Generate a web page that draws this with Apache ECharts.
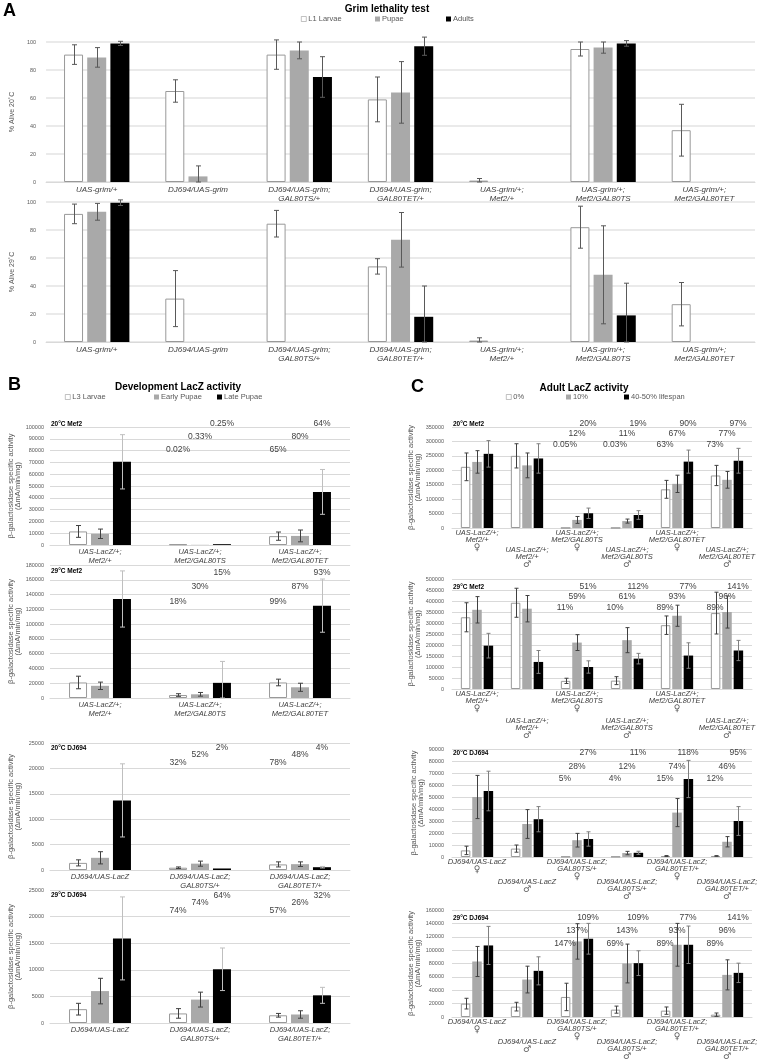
<!DOCTYPE html>
<html><head><meta charset="utf-8">
<script src="https://cdn.jsdelivr.net/npm/echarts@6/dist/echarts.min.js"></script>
<style>html,body{margin:0;padding:0;background:#fff}#c{width:767px;height:1062px}</style>
</head><body><div id="c"></div><script>
// ---------------- DATA ----------------
// Panel A : Grim lethality test
const A_SERIES = ['L1 Larvae', 'Pupae', 'Adults'];
const A_CATS = ['UAS-grim/+', 'DJ694/UAS-grim', 'DJ694/UAS-grim;\nGAL80TS/+', 'DJ694/UAS-grim;\nGAL80TET/+', 'UAS-grim/+;\nMef2/+', 'UAS-grim/+;\nMef2/GAL80TS', 'UAS-grim/+;\nMef2/GAL80TET'];
const A20_L1 = [91, 65, 91, 59, 1, 95, 37];
const A20_L1_ERR = [7, 8, 10.5, 16, 1.5, 5, 18.5];
const A20_PUPAE = [89, 4, 94, 64, 0, 96, 0];
const A20_PUPAE_ERR = [7, 7.5, 6, 22, 0, 4, 0];
const A20_ADULTS = [99, 0, 75, 97, 0, 99, 0];
const A20_ADULTS_ERR = [1.5, 0, 14.5, 6.5, 0, 2, 0];
const A29_L1 = [91.5, 31, 84.5, 54, 1, 82, 27];
const A29_L1_ERR = [7, 20, 9.5, 5.5, 2, 15, 15.5];
const A29_PUPAE = [93, 0, 0, 73, 0, 48, 0];
const A29_PUPAE_ERR = [6, 0, 0, 19.5, 0, 35, 0];
const A29_ADULTS = [99.5, 0, 0, 18, 0, 19, 0];
const A29_ADULTS_ERR = [2, 0, 0, 22, 0, 23, 0];

// Panel B : Development LacZ activity
const B_SERIES = ['L3 Larvae', 'Early Pupae', 'Late Pupae'];
const B_MEF2_CATS = ['UAS-LacZ/+;\nMef2/+', 'UAS-LacZ/+;\nMef2/GAL80TS', 'UAS-LacZ/+;\nMef2/GAL80TET'];
const B_DJ_CATS = ['DJ694/UAS-LacZ', 'DJ694/UAS-LacZ;\nGAL80TS/+', 'DJ694/UAS-LacZ;\nGAL80TET/+'];
const B20M_L3 = [11500, 600, 7500];
const B20M_L3_ERR = [5000, 0, 3500];
const B20M_EARLY = [9500, 150, 7700];
const B20M_EARLY_ERR = [4000, 0, 5000];
const B20M_LATE = [70500, 700, 45000];
const B20M_LATE_ERR = [23000, 0, 19000];
const B20M_PCT = [['', '0.25%', '64%'], ['', '0.33%', '80%'], ['', '0.02%', '65%']];
const B29M_L3 = [21000, 4000, 21000];
const B29M_L3_ERR = [8500, 1800, 4500];
const B29M_EARLY = [16500, 5000, 14500];
const B29M_EARLY_ERR = [5000, 2500, 5500];
const B29M_LATE = [134000, 20500, 125000];
const B29M_LATE_ERR = [38000, 29000, 36000];
const B29M_PCT = [['', '15%', '93%'], ['', '30%', '87%'], ['', '18%', '99%']];
const B20D_L3 = [1400, 450, 1100];
const B20D_L3_ERR = [600, 150, 500];
const B20D_EARLY = [2400, 1250, 1150];
const B20D_EARLY_ERR = [1200, 500, 450];
const B20D_LATE = [13700, 300, 550];
const B20D_LATE_ERR = [7200, 0, 150];
const B20D_PCT = [['', '2%', '4%'], ['', '52%', '48%'], ['', '32%', '78%']];
const B29D_L3 = [2600, 1800, 1450];
const B29D_L3_ERR = [1100, 900, 350];
const B29D_EARLY = [6000, 4400, 1600];
const B29D_EARLY_ERR = [2400, 1400, 700];
const B29D_LATE = [15900, 10100, 5200];
const B29D_LATE_ERR = [7800, 4000, 1500];
const B29D_PCT = [['', '64%', '32%'], ['', '74%', '26%'], ['', '74%', '57%']];

// Panel C : Adult LacZ activity
const C_SERIES = ['0%', '10%', '40-50% lifespan'];
const C_MEF2_CATS = ['UAS-LacZ/+;\nMef2/+\n♀', 'UAS-LacZ/+;\nMef2/+\n♂', 'UAS-LacZ/+;\nMef2/GAL80TS\n♀', 'UAS-LacZ/+;\nMef2/GAL80TS\n♂', 'UAS-LacZ/+;\nMef2/GAL80TET\n♀', 'UAS-LacZ/+;\nMef2/GAL80TET\n♂'];
const C_DJ_CATS = ['DJ694/UAS-LacZ\n♀', 'DJ694/UAS-LacZ\n♂', 'DJ694/UAS-LacZ;\nGAL80TS/+\n♀', 'DJ694/UAS-LacZ;\nGAL80TS/+\n♂', 'DJ694/UAS-LacZ;\nGAL80TET/+\n♀', 'DJ694/UAS-LacZ;\nGAL80TET/+\n♂'];
const C20M_D0 = [212000, 250000, 300, 250, 134000, 182000];
const C20M_D0_ERR = [48000, 42000, 0, 0, 31000, 35000];
const C20M_D10 = [229000, 217000, 28000, 24000, 153000, 167000];
const C20M_D10_ERR = [39000, 43000, 12000, 7000, 30000, 29000];
const C20M_D40 = [257000, 241000, 51000, 45000, 230000, 233000];
const C20M_D40_ERR = [46000, 51000, 18000, 15000, 40000, 43000];
const C20M_PCT = [['', '', '20%', '19%', '90%', '97%'], ['', '', '12%', '11%', '67%', '77%'], ['', '', '0.05%', '0.03%', '63%', '73%']];
const C29M_D0 = [326000, 392000, 37000, 38000, 290000, 345000];
const C29M_D0_ERR = [66000, 66000, 12000, 18000, 42000, 95000];
const C29M_D10 = [360000, 365000, 211000, 222000, 333000, 350000];
const C29M_D10_ERR = [60000, 60000, 36000, 57000, 48000, 73000];
const C29M_D40 = [197000, 123000, 100000, 138000, 152000, 175000];
const C29M_D40_ERR = [56000, 52000, 28000, 24000, 58000, 46000];
const C29M_PCT = [['', '', '51%', '112%', '77%', '141%'], ['', '', '59%', '61%', '93%', '96%'], ['', '', '11%', '10%', '89%', '89%']];
const C20D_D0 = [5500, 7000, 300, 280, 800, 850];
const C20D_D0_ERR = [3500, 3000, 0, 0, 400, 300];
const C20D_D10 = [50000, 27500, 14000, 3300, 37000, 12700];
const C20D_D10_ERR = [18000, 12000, 5700, 1400, 11700, 4300];
const C20D_D40 = [55000, 31500, 15000, 3500, 65000, 30000];
const C20D_D40_ERR = [16500, 10500, 6000, 1300, 15500, 12000];
const C20D_PCT = [['', '', '27%', '11%', '118%', '95%'], ['', '', '28%', '12%', '74%', '46%'], ['', '', '5%', '4%', '15%', '12%']];
const C29D_D0 = [20000, 15500, 30000, 11000, 9500, 3500];
const C29D_D0_ERR = [8000, 6500, 20500, 5300, 5500, 2500];
const C29D_D10 = [83000, 56000, 113000, 80000, 108000, 63000];
const C29D_D10_ERR = [22500, 20000, 26500, 29000, 32000, 22500];
const C29D_D40 = [107000, 69000, 117000, 80500, 108000, 66000];
const C29D_D40_ERR = [28500, 21000, 23000, 18500, 28000, 14500];
const C29D_PCT = [['', '', '109%', '109%', '77%', '141%'], ['', '', '137%', '143%', '93%', '96%'], ['', '', '147%', '69%', '89%', '89%']];

// ---------------- BUILD ----------------
const FONT = '"Liberation Sans", "DejaVu Sans", Arial, sans-serif';
const grids = [], xAxes = [], yAxes = [], series = [], graphics = [];
const BAR_STYLES = [
  {color: '#ffffff', borderColor: '#999999', borderWidth: 1},
  {color: '#a9a9a9'},
  {color: '#000000'}
];
function sexFormatter(v) { return String(v).replace(/([♀♂])/g, '{s|$1}'); }

function addChart(c) {
  const gi = grids.length;
  grids.push({left: c.left, top: c.top, width: c.width, height: c.height});
  const xi = xAxes.length;
  const lab = {fontSize: c.xFont, fontStyle: 'italic', color: '#404040', lineHeight: c.xLH, fontFamily: FONT, margin: c.xMargin,
    formatter: sexFormatter,
    rich: {s: {fontSize: 9, fontStyle: 'normal', color: '#595959', lineHeight: c.xLH + 1, fontFamily: '"DejaVu Sans", sans-serif'}}};
  xAxes.push({type: 'category', gridIndex: gi, position: 'bottom', data: c.cats,
    axisLine: {lineStyle: {color: '#d9d9d9'}}, axisTick: {show: false},
    axisLabel: Object.assign({}, lab, {interval: c.stagger ? function (i) { return i % 2 === 0; } : 0})});
  if (c.stagger) {
    xAxes.push({type: 'category', gridIndex: gi, position: 'bottom', data: c.cats,
      axisLine: {show: false}, axisTick: {show: false}, splitLine: {show: false},
      axisLabel: Object.assign({}, lab, {margin: c.stagger, interval: function (i) { return i % 2 === 1; }})});
  }
  const yi = yAxes.length;
  yAxes.push({type: 'value', gridIndex: gi, min: 0, max: c.max, interval: c.step,
    name: c.yName, nameLocation: 'middle', nameGap: c.nameGap,
    nameTextStyle: {fontSize: c.nameFont, color: '#595959', fontFamily: FONT, lineHeight: c.nameLH},
    axisLabel: {fontSize: 5.5, color: '#595959', margin: c.yMargin, fontFamily: FONT, formatter: function (v) { return String(v); }},
    axisLine: {show: false}, axisTick: {show: false},
    splitLine: {lineStyle: {color: c.gridColor || '#d9d9d9', width: c.gridW || 1}}});
  const gapPx = c.bw * c.gap;
  for (let s = 0; s < 3; s++) {
    series.push({type: 'bar', name: c.names[s], xAxisIndex: xi, yAxisIndex: yi, data: c.vals[s],
      barWidth: c.bw, barGap: (c.gap * 100) + '%', itemStyle: BAR_STYLES[s], emphasis: {disabled: true}});
  }
  const errData = [];
  for (let s = 0; s < 3; s++) c.vals[s].forEach(function (v, i) { if (c.errs[s][i] > 0) errData.push([i, v, c.errs[s][i], s]); });
  series.push({type: 'custom', xAxisIndex: xi, yAxisIndex: yi, data: errData, encode: {x: 0, y: 1}, silent: true, z: 3,
    renderItem: function (params, api) {
      const i = api.value(0), v = api.value(1), e = api.value(2), s = api.value(3);
      const x = Math.round(api.coord([i, 0])[0] + (s - 1) * (c.bw + gapPx)) + 0.5;
      const yHi = api.coord([i, v + e])[1];
      const yLo = api.coord([i, Math.max(0, v - e)])[1];
      const col = c.errColors[s], cap = c.cap;
      return {type: 'group', children: [
        {type: 'line', shape: {x1: x, y1: yHi, x2: x, y2: yLo}, style: {stroke: col, lineWidth: 1}},
        {type: 'line', shape: {x1: x - cap, y1: yHi, x2: x + cap, y2: yHi}, style: {stroke: col, lineWidth: 1}},
        {type: 'line', shape: {x1: x - cap, y1: yLo, x2: x + cap, y2: yLo}, style: {stroke: col, lineWidth: 1}}
      ]};
    }});
  if (c.pct) {
    const pd = [];
    c.pct.forEach(function (row, r) { row.forEach(function (t, i) { if (t) pd.push([i, r]); }); });
    series.push({type: 'custom', xAxisIndex: xi, yAxisIndex: yi, data: pd, encode: {x: 0, y: 1}, silent: true, z: 4,
      renderItem: function (params, api) {
        const i = api.value(0), r = api.value(1);
        return {type: 'text', x: api.coord([i, 0])[0] + c.pctDx[r], y: params.coordSys.y + c.pctDy[r],
          style: {text: c.pct[r][i], fill: '#404040', fontSize: 8.5, fontFamily: FONT, align: 'center', verticalAlign: 'middle'}};
      }});
  }
  if (c.sub) {
    graphics.push({type: 'text', x: c.left + 1, y: c.subY, style: {text: c.sub, fill: '#000', fontSize: 6.5, fontWeight: 'bold', fontFamily: FONT, align: 'left', verticalAlign: 'middle'}});
  }
}

const A_COMMON = {cats: A_CATS, names: A_SERIES, left: 37, width: 718, height: 140, max: 100, step: 20,
  bw: 19, gap: 0.22, cap: 2.5, errColors: ['#595959', '#595959', '#595959'], xFont: 8, xLH: 9.5, xMargin: 3,
  nameGap: 16, nameFont: 7, nameLH: 8, yMargin: 10, gridColor: '#e3e3e3', gridW: 1.5};
addChart(Object.assign({}, A_COMMON, {top: 42, yName: '% Alive 20˚C',
  vals: [A20_L1, A20_PUPAE, A20_ADULTS], errs: [A20_L1_ERR, A20_PUPAE_ERR, A20_ADULTS_ERR]}));
addChart(Object.assign({}, A_COMMON, {top: 202, yName: '% Alive 29˚C',
  vals: [A29_L1, A29_PUPAE, A29_ADULTS], errs: [A29_L1_ERR, A29_PUPAE_ERR, A29_ADULTS_ERR]}));

const Y_NAME = 'β-galactosidase specific activity\n(ΔmA/min/mg)';
const B_COMMON = {names: B_SERIES, left: 50, width: 300, bw: 18, gap: 0.22, cap: 2.5,
  errColors: ['#404040', '#404040', '#bfbfbf'], xFont: 7.5, xLH: 8.5, xMargin: 3,
  yName: Y_NAME, nameGap: 29, nameFont: 7.5, nameLH: 6.5, yMargin: 6, pctDx: [22, 0, -22]};
addChart(Object.assign({}, B_COMMON, {cats: B_MEF2_CATS, top: 427, height: 118, max: 100000, step: 10000,
  vals: [B20M_L3, B20M_EARLY, B20M_LATE], errs: [B20M_L3_ERR, B20M_EARLY_ERR, B20M_LATE_ERR],
  pct: B20M_PCT, pctDy: [-3, 10, 23], sub: '20°C Mef2', subY: 424}));
addChart(Object.assign({}, B_COMMON, {cats: B_MEF2_CATS, top: 565, height: 133, max: 180000, step: 20000,
  vals: [B29M_L3, B29M_EARLY, B29M_LATE], errs: [B29M_L3_ERR, B29M_EARLY_ERR, B29M_LATE_ERR],
  pct: B29M_PCT, pctDy: [8, 22, 37], sub: '29°C Mef2', subY: 571}));
addChart(Object.assign({}, B_COMMON, {cats: B_DJ_CATS, top: 743, height: 127, max: 25000, step: 5000,
  vals: [B20D_L3, B20D_EARLY, B20D_LATE], errs: [B20D_L3_ERR, B20D_EARLY_ERR, B20D_LATE_ERR],
  pct: B20D_PCT, pctDy: [5, 12, 20], sub: '20°C DJ694', subY: 748}));
addChart(Object.assign({}, B_COMMON, {cats: B_DJ_CATS, top: 890, height: 133, max: 25000, step: 5000,
  vals: [B29D_L3, B29D_EARLY, B29D_LATE], errs: [B29D_L3_ERR, B29D_EARLY_ERR, B29D_LATE_ERR],
  pct: B29D_PCT, pctDy: [6, 13, 21], sub: '29°C DJ694', subY: 895}));

const C_COMMON = {names: C_SERIES, left: 452, width: 300, bw: 9.5, gap: 0.2, cap: 2,
  errColors: ['#404040', '#404040', '#7f7f7f'], xFont: 7.5, xLH: 7, xMargin: 1.5,
  yName: Y_NAME, nameGap: 26, nameFont: 7.5, nameLH: 6.5, yMargin: 8, pctDx: [11, 0, -12]};
addChart(Object.assign({}, C_COMMON, {cats: C_MEF2_CATS, top: 427, height: 101, max: 350000, step: 50000, stagger: 18.5,
  vals: [C20M_D0, C20M_D10, C20M_D40], errs: [C20M_D0_ERR, C20M_D10_ERR, C20M_D40_ERR],
  pct: C20M_PCT, pctDy: [-3, 7, 18], sub: '20°C Mef2', subY: 424}));
addChart(Object.assign({}, C_COMMON, {cats: C_MEF2_CATS, top: 579, height: 110, max: 500000, step: 50000, stagger: 28.5,
  vals: [C29M_D0, C29M_D10, C29M_D40], errs: [C29M_D0_ERR, C29M_D10_ERR, C29M_D40_ERR],
  pct: C29M_PCT, pctDy: [8, 18, 29], sub: '29°C Mef2', subY: 587}));
addChart(Object.assign({}, C_COMMON, {cats: C_DJ_CATS, top: 749, height: 108, max: 90000, step: 10000, stagger: 21.5,
  vals: [C20D_D0, C20D_D10, C20D_D40], errs: [C20D_D0_ERR, C20D_D10_ERR, C20D_D40_ERR],
  pct: C20D_PCT, pctDy: [4, 18, 30], sub: '20°C DJ694', subY: 753}));
addChart(Object.assign({}, C_COMMON, {cats: C_DJ_CATS, top: 910, height: 107, max: 160000, step: 20000, stagger: 21.5,
  vals: [C29D_D0, C29D_D10, C29D_D40], errs: [C29D_D0_ERR, C29D_D10_ERR, C29D_D40_ERR],
  pct: C29D_PCT, pctDy: [8, 21, 34], sub: '29°C DJ694', subY: 918}));

// panel letters and titles
function txt(x, y, t, size, weight, align) {
  graphics.push({type: 'text', x: x, y: y, style: {text: t, fill: '#000', fontSize: size, fontWeight: weight, fontFamily: FONT, align: align, verticalAlign: 'middle'}});
}
txt(3, 11, 'A', 18, 'bold', 'left');
txt(387, 9, 'Grim lethality test', 10, 'bold', 'center');
txt(8, 385, 'B', 18, 'bold', 'left');
txt(178, 387, 'Development LacZ activity', 10, 'bold', 'center');
txt(411, 387, 'C', 18, 'bold', 'left');
txt(584, 388, 'Adult LacZ activity', 10, 'bold', 'center');

function legendItem(name, left, top) {
  return {data: [name], left: left, top: top, itemWidth: 5, itemHeight: 5, icon: 'rect', padding: 0, itemGap: 0,
    itemStyle: {borderWidth: 0.6},
    textStyle: {fontSize: 7.5, color: '#595959', fontFamily: FONT, padding: [0, 0, 0, -3]}};
}
const legends = [
  legendItem('L1 Larvae', 301, 15), legendItem('Pupae', 375, 15), legendItem('Adults', 446, 15),
  legendItem('L3 Larvae', 65, 393), legendItem('Early Pupae', 154, 393), legendItem('Late Pupae', 217, 393),
  legendItem('0%', 506, 393), legendItem('10%', 566, 393), legendItem('40-50% lifespan', 624, 393)
];

const chart = echarts.init(document.getElementById('c'), null, {renderer: 'canvas'});
chart.setOption({
  animation: false,
  backgroundColor: '#ffffff',
  textStyle: {fontFamily: FONT},
  grid: grids, xAxis: xAxes, yAxis: yAxes, series: series,
  legend: legends, graphic: graphics
});
</script></body></html>
